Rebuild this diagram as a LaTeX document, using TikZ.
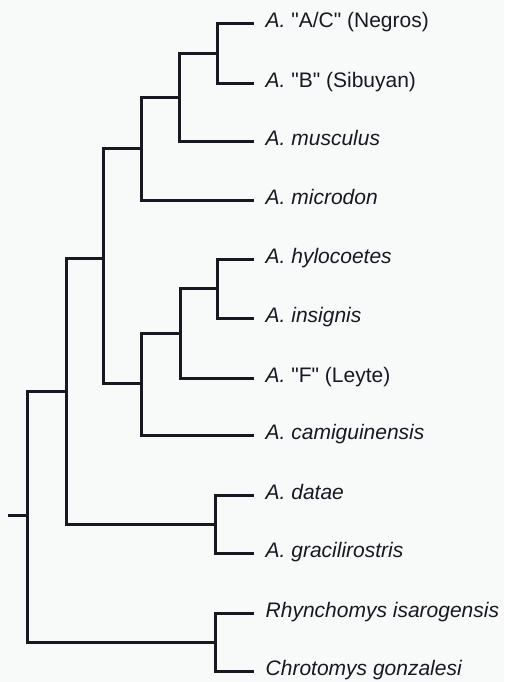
\documentclass[tikz,border=0pt]{standalone}
\usepackage{fontspec}
\setmainfont{Liberation Sans}
\definecolor{bgc}{RGB}{248,249,249}
\definecolor{ink}{RGB}{24,24,34}
\newcommand{\qq}{\textquotedbl}
\begin{document}
\begin{tikzpicture}[x=1pt,y=-1pt,
  branch/.style={draw=ink,line width=3pt,line join=miter,line cap=butt},
  lab/.style={anchor=base west,inner sep=0pt,text=ink,font=\fontsize{21}{25}\selectfont}]
\fill[bgc] (0,0) rectangle (504,682);
\useasboundingbox (0,0) rectangle (504,682);
% leaf tips
\coordinate (lAC) at (254,23.5);
\coordinate (lB) at (254,83.5);
\coordinate (lmus) at (254,141.5);
\coordinate (lmic) at (254,200);
\coordinate (lhyl) at (254,259.5);
\coordinate (lins) at (254,318.5);
\coordinate (lF) at (254,378.5);
\coordinate (lcam) at (254,435);
\coordinate (ldat) at (254,495);
\coordinate (lgra) at (254,553.5);
\coordinate (lrhy) at (254,613.5);
\coordinate (lchr) at (254,671.5);
% internal nodes
\coordinate (n1) at (217,53.5);
\coordinate (n2) at (179,97.5);
\coordinate (n3) at (141.5,148.5);
\coordinate (n4) at (217,288.5);
\coordinate (n5) at (180,333);
\coordinate (n6) at (141.5,383.5);
\coordinate (n7) at (103.5,258);
\coordinate (n8) at (215,524);
\coordinate (n9) at (66,391.5);
\coordinate (n10) at (215,642.5);
\coordinate (root) at (27.5,515);
\coordinate (stub) at (8,515);
% branches
\foreach \p/\c in {n1/lAC,n1/lB,n2/n1,n2/lmus,n3/n2,n3/lmic,
  n4/lhyl,n4/lins,n5/n4,n5/lF,n6/n5,n6/lcam,n7/n3,n7/n6,
  n8/ldat,n8/lgra,n9/n7,n9/n8,n10/lrhy,n10/lchr,root/n9,root/n10}
  \draw[branch] (\p) |- (\c);
\draw[branch] (stub) -- (root);
% labels
\node[lab] (tAC) at (265.5,27.5) {\textit{A.} \qq A/C\qq{} (Negros)};
\node[lab] (tB) at (265.5,87.5) {\textit{A.} \qq B\qq{} (Sibuyan)};
\node[lab] (tmus) at (265.5,145.5) {\textit{A. musculus}};
\node[lab] (tmic) at (265.5,204) {\textit{A. microdon}};
\node[lab] (thyl) at (265.5,263.5) {\textit{A. hylocoetes}};
\node[lab] (tins) at (265.5,322.5) {\textit{A. insignis}};
\node[lab] (tF) at (265.5,382.5) {\textit{A.} \qq F\qq{} (Leyte)};
\node[lab] (tcam) at (265.5,439) {\textit{A. camiguinensis}};
\node[lab] (tdat) at (265.5,499) {\textit{A. datae}};
\node[lab] (tgra) at (265.5,557.5) {\textit{A. gracilirostris}};
\node[lab] (trhy) at (265.5,617.5) {\textit{Rhynchomys isarogensis}};
\node[lab] (tchr) at (265.5,675.5) {\textit{Chrotomys gonzalesi}};
\end{tikzpicture}
\end{document}
